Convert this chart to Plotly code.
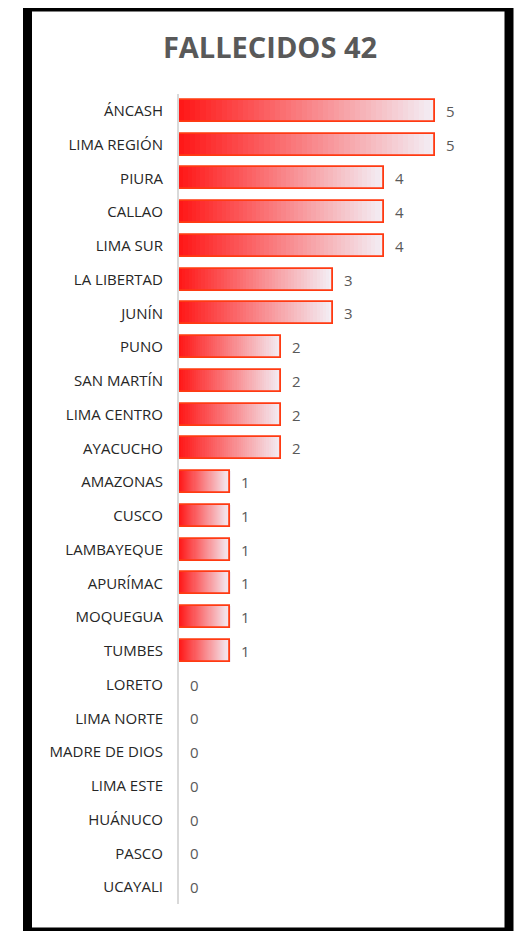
import plotly.graph_objects as go

categories = ["ÁNCASH", "LIMA REGIÓN", "PIURA", "CALLAO", "LIMA SUR", "LA LIBERTAD",
              "JUNÍN", "PUNO", "SAN MARTÍN", "LIMA CENTRO", "AYACUCHO", "AMAZONAS",
              "CUSCO", "LAMBAYEQUE", "APURÍMAC", "MOQUEGUA", "TUMBES", "LORETO",
              "LIMA NORTE", "MADRE DE DIOS", "LIMA ESTE", "HUÁNUCO", "PASCO", "UCAYALI"]
values = [5, 5, 4, 4, 4, 3, 3, 2, 2, 2, 2, 1, 1, 1, 1, 1, 1, 0, 0, 0, 0, 0, 0, 0]
title_text = "FALLECIDOS 42"

OFF = 8  # page body margin
W, H = 525 - OFF, 931 - OFF
ML = 179 - OFF
MT = 94 - OFF
PW = 307
PH = 810
MR = W - ML - PW
MB = H - MT - PH

fig = go.Figure()

# gradient fill: split each bar into thin segments proportional to its own length
N = 48
c0 = (255, 22, 22)
c1 = (243, 240, 247)
for i in range(N):
    t = (i + 0.5) / N
    col = "rgb(%d,%d,%d)" % tuple(round(a + (b - a) * t) for a, b in zip(c0, c1))
    fig.add_trace(go.Bar(
        y=categories, x=[v / N * 1.002 for v in values], base=[v * i / N for v in values],
        orientation="h", width=0.65, marker=dict(color=col, line=dict(width=0)),
        hoverinfo="skip", showlegend=False))

# outline
fig.add_trace(go.Bar(
    y=categories, x=values, orientation="h", width=0.65,
    marker=dict(color="rgba(0,0,0,0)", line=dict(color="#FF3A12", width=1.8)),
    showlegend=False))

for c, v in zip(categories, values):
    fig.add_annotation(x=v, y=c, text=str(v), showarrow=False, xanchor="left",
                       xshift=9, font=dict(family="Open Sans", size=15, color="#595959"))

def px_x(p):
    return (p - OFF - ML) / PW

def px_y(p):
    return (H - MB - (p - OFF)) / PH

fig.add_shape(type="rect", xref="paper", yref="paper",
              x0=px_x(27.5), x1=px_x(509), y0=px_y(932), y1=px_y(7),
              line=dict(color="black", width=9), fillcolor="rgba(0,0,0,0)", layer="above")

fig.update_layout(
    width=W, height=H, barmode="overlay", bargap=0,
    margin=dict(l=ML, r=MR, t=MT, b=MB),
    paper_bgcolor="white", plot_bgcolor="white",
    title=dict(text="<b>%s</b>" % title_text, x=(270 - OFF) / W, xanchor="center",
               y=1 - (48 - OFF) / H, yanchor="middle",
               font=dict(family="Open Sans", size=29, color="#595959")),
    xaxis=dict(range=[0, PW / 51.2], visible=False, showgrid=False, zeroline=False),
    yaxis=dict(autorange="reversed", showgrid=False, zeroline=False,
               showline=True, linecolor="#D9D9D9", linewidth=2,
               ticks="", ticklabelstandoff=11,
               tickfont=dict(family="Open Sans", size=15, color="#262626")),
)

fig.write_html("out.html")
